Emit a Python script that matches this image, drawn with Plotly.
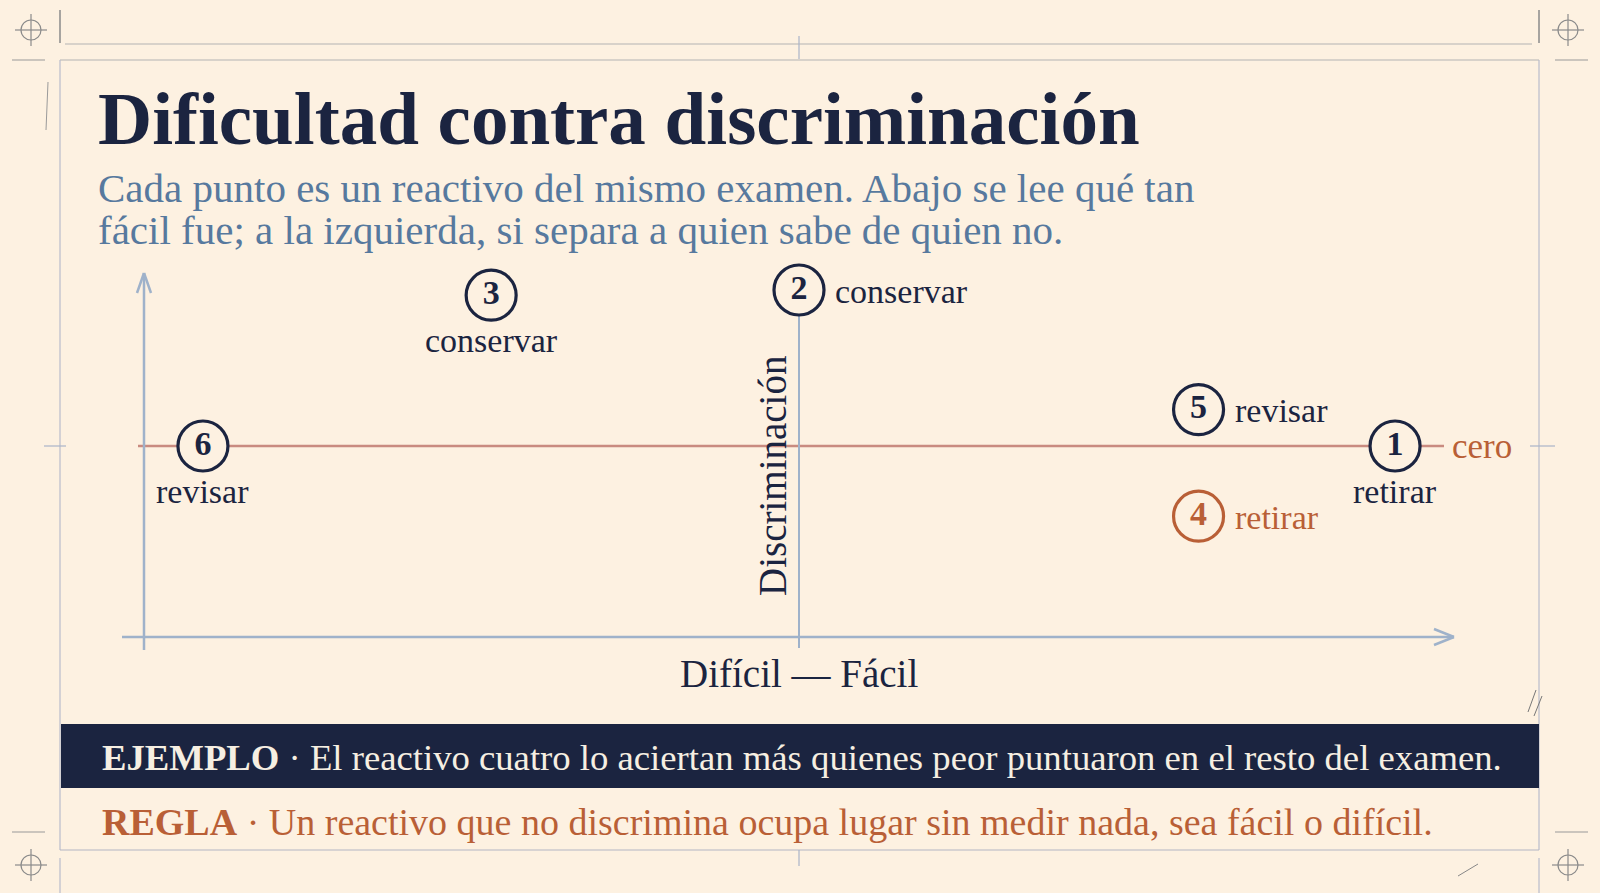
import plotly.graph_objects as go

# ---------------- data ----------------
items = ["1", "2", "3", "4", "5", "6"]
difficulty = [0.955, 0.50, 0.265, 0.805, 0.805, 0.045]      # proportion correct (left = hard, right = easy)
discrimination = [0.00, 0.60, 0.58, -0.27, 0.14, 0.00]
decisions = ["retirar", "conservar", "conservar", "retirar", "revisar", "revisar"]
label_side = ["below", "right", "below", "right", "right", "below"]

title = "Dificultad contra discriminación"
subtitle = ["Cada punto es un reactivo del mismo examen. Abajo se lee qué tan",
            "fácil fue; a la izquierda, si separa a quien sabe de quien no."]
x_title = "Difícil — Fácil"
y_title = "Discriminación"
zero_label = "cero"
example_text = ("EJEMPLO", "El reactivo cuatro lo aciertan más quienes peor puntuaron en el resto del examen.")
rule_text = ("REGLA", "Un reactivo que no discrimina ocupa lugar sin medir nada, sea fácil o difícil.")

# ---------------- style ----------------
W, H = 1600, 893
BG = "#fdf1e1"
NAVY = "#1b2440"
BLUE = "#57799e"
AXIS = "#9fb2ca"
ZERO = "#c98b80"
ORANGE = "#b95f36"
GRAY = "#9a9a9a"
SERIF = "Liberation Serif, DejaVu Serif, serif"

# pixel geometry of the plotting frame
X0PX, X1PX = 144, 1454     # difficulty 0 .. 1
ZEROPX, SY = 446, 260      # discrimination 0 at this pixel row, px per unit
xr = [(0 - X0PX) / (X1PX - X0PX), (W - X0PX) / (X1PX - X0PX)]
yr = [(ZEROPX - H) / SY, ZEROPX / SY]


def px(x):
    return x / W


def py(y):
    return 1 - y / H


shapes = []


def pline(x0, y0, x1, y1, color=GRAY, width=1.2):
    shapes.append(dict(type="line", xref="paper", yref="paper", x0=px(x0), y0=py(y0),
                       x1=px(x1), y1=py(y1), line=dict(color=color, width=width)))


# frame
pline(65, 44, 1532, 44, "#b3b3b3", 1.2)
pline(60, 60, 1539, 60, "#b3b3b3", 1.2)
pline(60, 60, 60, 850, "#b9bccb", 1.2)
pline(1539, 60, 1539, 850, "#b9bccb", 1.2)
pline(60, 850, 1539, 850, "#b3b6c4", 1.2)
pline(60, 10, 60, 43, "#8a8a8a", 1.5)
pline(1539, 10, 1539, 43, "#8a8a8a", 1.5)
pline(60, 858, 60, 893, "#b9bccb", 1.2)
pline(1539, 858, 1539, 893, "#b9bccb", 1.2)
pline(12, 60, 45, 60, "#999999", 1.2)
pline(1555, 60, 1588, 60, "#999999", 1.2)
pline(12, 832, 45, 832, "#999999", 1.2)
pline(1555, 832, 1588, 832, "#999999", 1.2)
pline(44, 446, 66, 446, "#aab4c8", 1.2)
pline(1530, 446, 1555, 446, "#aab4c8", 1.2)
pline(799, 36, 799, 59, "#aab4c8", 1.2)
pline(799, 850, 799, 866, "#aab4c8", 1.2)
# crosshairs
for cx, cy in [(31, 30), (1568, 30), (31, 865), (1568, 865)]:
    shapes.append(dict(type="circle", xref="paper", yref="paper",
                       x0=px(cx - 10), x1=px(cx + 10), y0=py(cy - 10), y1=py(cy + 10),
                       line=dict(color="#8a8a8a", width=1.2)))
    pline(cx - 16, cy, cx + 16, cy, "#8a8a8a", 1.2)
    pline(cx, cy - 16, cx, cy + 16, "#8a8a8a", 1.2)
# pencil scribbles
pline(48, 82, 46, 130, "#9a9a9a", 1)
pline(1536, 690, 1528, 712, "#777777", 1)
pline(1542, 696, 1534, 716, "#777777", 1)
pline(1458, 876, 1478, 864, "#888888", 1)

# axes arrows
pline(122, 637, 1454, 637, AXIS, 2.5)
pline(1454, 637, 1434, 629, AXIS, 2.5)
pline(1454, 637, 1434, 645, AXIS, 2.5)
pline(144, 650, 144, 273, AXIS, 2.5)
pline(144, 273, 137, 293, AXIS, 2.5)
pline(144, 273, 151, 293, AXIS, 2.5)

# zero line (data y = 0)
shapes.append(dict(type="line", xref="paper", yref="y", x0=px(138), x1=px(1444), y0=0, y1=0,
                   line=dict(color=ZERO, width=2.5), layer="below"))
# mid difficulty line (data x = 0.5)
shapes.append(dict(type="line", xref="x", yref="paper", x0=0.5, x1=0.5, y0=py(311), y1=py(648),
                   line=dict(color=AXIS, width=2), layer="below"))

# example band
shapes.append(dict(type="rect", xref="paper", yref="paper", x0=px(61), x1=px(1539),
                   y0=py(724), y1=py(788), fillcolor=NAVY, line=dict(width=0)))

colors = [ORANGE if d < -0.1 else NAVY for d in discrimination]

fig = go.Figure()
fig.add_trace(go.Scatter(
    x=difficulty, y=discrimination, mode="markers+text",
    text=[f"<b>{i}</b>" for i in items], textposition="middle center",
    textfont=dict(family=SERIF, size=34, color=colors),
    marker=dict(size=50, color=BG, line=dict(color=colors, width=3.2)),
    hoverinfo="skip", showlegend=False, cliponaxis=False))

annotations = []
for xv, yv, lab, side, c in zip(difficulty, discrimination, decisions, label_side, colors):
    if side == "below":
        annotations.append(dict(x=xv, y=yv, xref="x", yref="y", text=lab, showarrow=False,
                                xanchor="center", yanchor="middle", yshift=-45,
                                font=dict(family=SERIF, size=34, color=c)))
    else:
        annotations.append(dict(x=xv, y=yv, xref="x", yref="y", text=lab, showarrow=False,
                                xanchor="left", yanchor="middle", xshift=34, yshift=-1,
                                font=dict(family=SERIF, size=34, color=c)))

annotations += [
    dict(x=px(96), y=py(119), xref="paper", yref="paper", text=f"<b>{title}</b>", showarrow=False,
         xanchor="left", yanchor="middle", font=dict(family=SERIF, size=75, color=NAVY)),
    dict(x=px(96), y=py(188), xref="paper", yref="paper", text=subtitle[0], showarrow=False,
         xanchor="left", yanchor="middle", font=dict(family=SERIF, size=41, color=BLUE)),
    dict(x=px(96), y=py(230), xref="paper", yref="paper", text=subtitle[1], showarrow=False,
         xanchor="left", yanchor="middle", font=dict(family=SERIF, size=41, color=BLUE)),
    dict(x=px(1450), y=0, xref="paper", yref="y", text=zero_label, showarrow=False,
         xanchor="left", yanchor="middle", font=dict(family=SERIF, size=35, color=ORANGE)),
    dict(x=px(772), y=py(476), xref="paper", yref="paper", text=y_title, showarrow=False, textangle=-90,
         xanchor="center", yanchor="middle", font=dict(family=SERIF, size=39, color=NAVY)),
    dict(x=0.5, y=py(673), xref="x", yref="paper", text=x_title, showarrow=False,
         xanchor="center", yanchor="middle", font=dict(family=SERIF, size=39, color=NAVY)),
    dict(x=px(100), y=py(757), xref="paper", yref="paper",
         text=f"<b>{example_text[0]}</b> · {example_text[1]}", showarrow=False,
         xanchor="left", yanchor="middle", font=dict(family=SERIF, size=36.7, color="#f6efe2")),
    dict(x=px(100), y=py(822), xref="paper", yref="paper",
         text=f"<b>{rule_text[0]}</b> · {rule_text[1]}", showarrow=False,
         xanchor="left", yanchor="middle", font=dict(family=SERIF, size=38, color=ORANGE)),
]

fig.update_layout(
    width=W, height=H, autosize=False,
    margin=dict(l=0, r=0, t=0, b=0),
    paper_bgcolor=BG, plot_bgcolor=BG,
    xaxis=dict(range=xr, visible=False, fixedrange=True),
    yaxis=dict(range=yr, visible=False, fixedrange=True),
    shapes=shapes, annotations=annotations,
)

fig.write_html("out.html", config={"displayModeBar": False},
               post_script="document.body.style.margin='0';document.body.style.background='#fdf1e1';document.body.style.overflow='hidden';")
